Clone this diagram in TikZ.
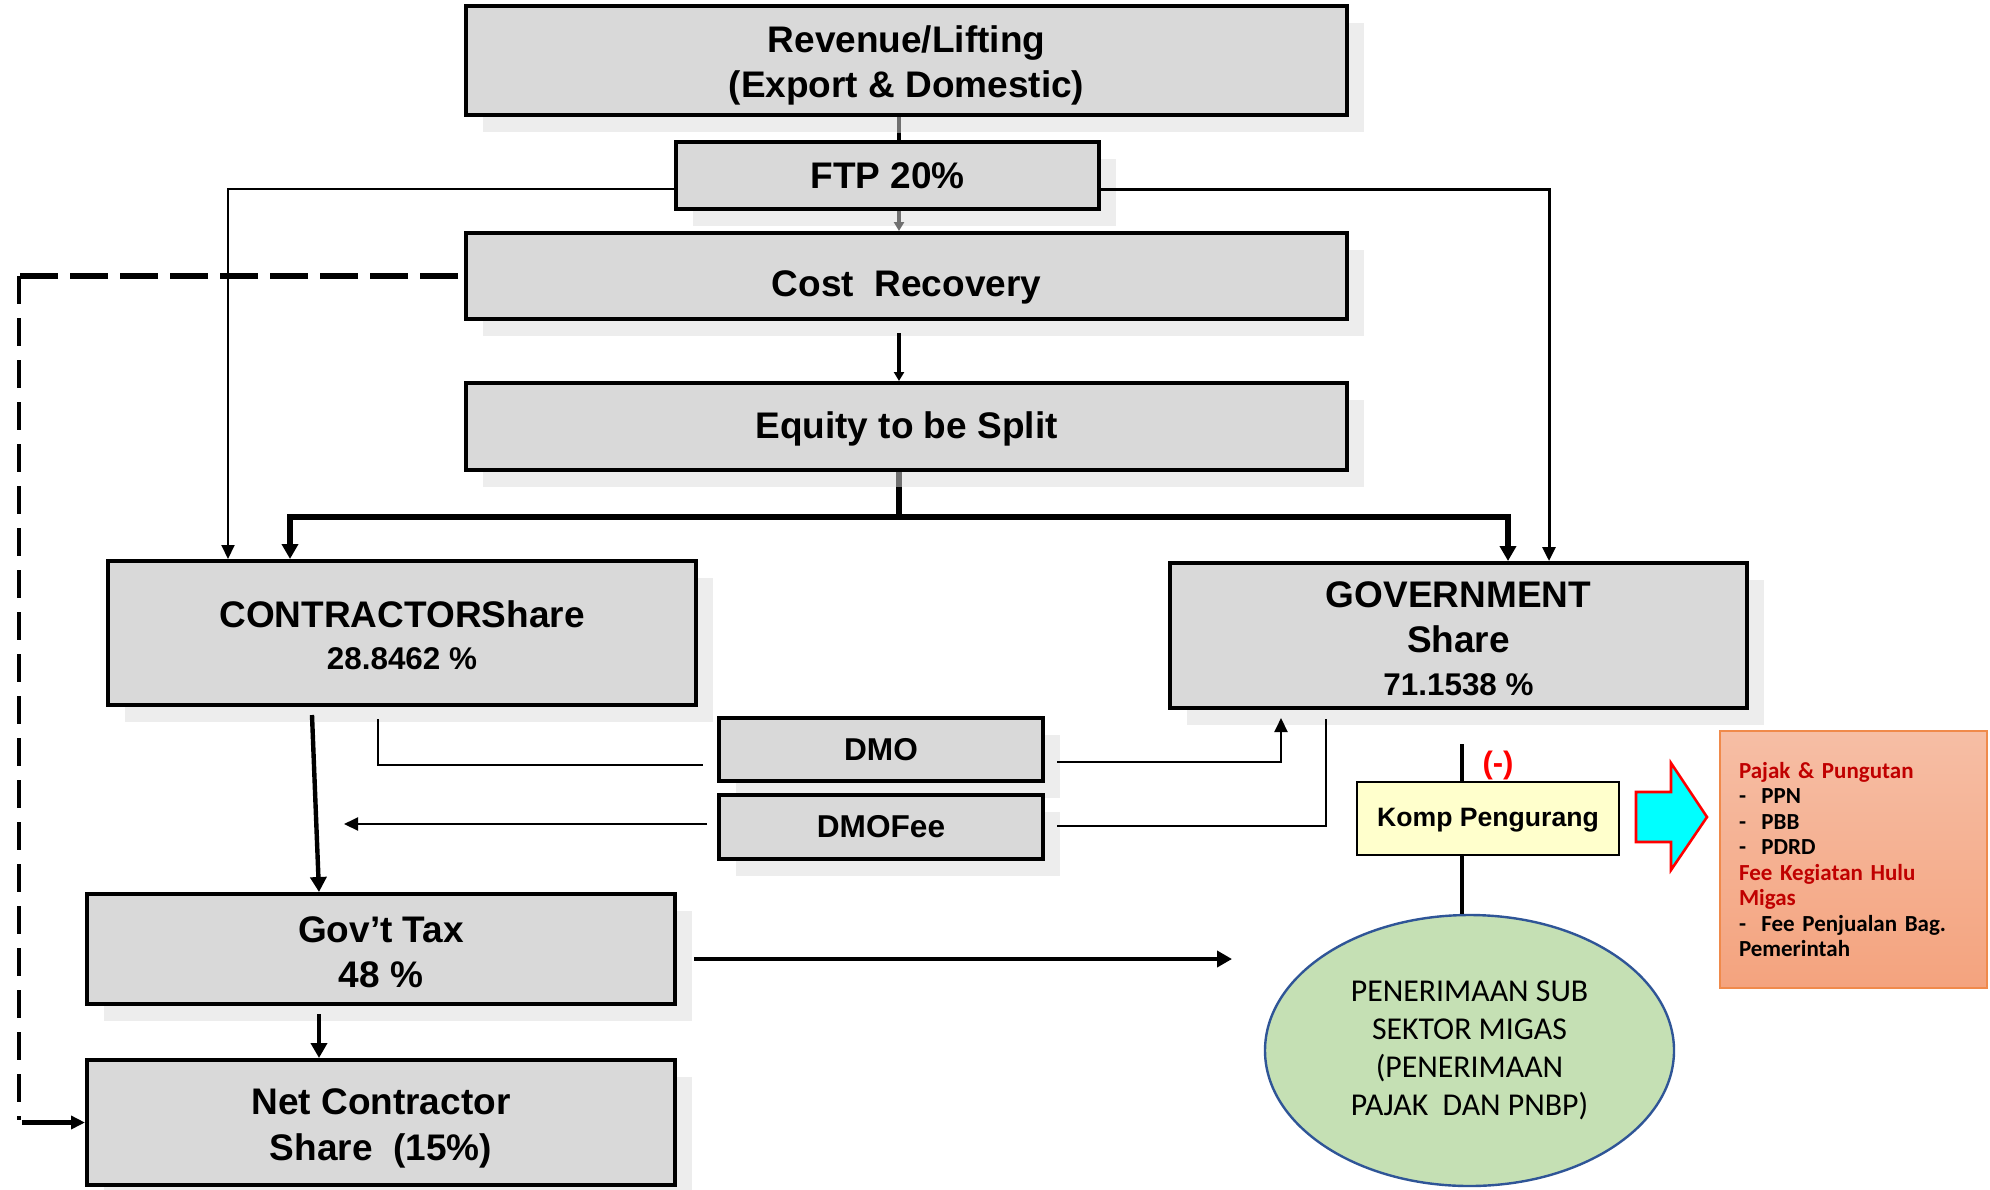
\documentclass[tikz,border=0pt]{standalone}
\usepackage{fontspec}
\setmainfont{Liberation Sans}
\newfontfamily\calibri{Carlito}
\usetikzlibrary{arrows.meta,shadows,shapes.geometric}
\definecolor{boxgray}{HTML}{D9D9D9}
\definecolor{shadowgray}{HTML}{EDEDED}
\definecolor{kompyellow}{HTML}{FFFFCC}
\definecolor{pengreen}{HTML}{C5E0B4}
\definecolor{penblue}{HTML}{2F5597}
\definecolor{pinktop}{HTML}{F6BEA5}
\definecolor{pinkbot}{HTML}{F4A37E}
\definecolor{pinkedge}{HTML}{F08A4B}
\definecolor{redtxt}{HTML}{C00000}
\definecolor{linegray}{HTML}{707070}
\definecolor{cyanfill}{HTML}{00FFFF}
\definecolor{minusred}{HTML}{FF0000}
\begin{document}
\begin{tikzpicture}[x=0.5pt,y=-0.5pt,
  box/.style={draw=black, line width=2pt, fill=boxgray, inner sep=0pt, align=center,
    general shadow={fill=shadowgray, shadow xshift=8.5pt, shadow yshift=-8.5pt},
    font=\bfseries\fontsize{18.5}{22.5}\selectfont},
  smallbox/.style={box, font=\bfseries\fontsize{15.8}{19}\selectfont},
  thinln/.style={line width=1pt},
  medln/.style={line width=1.5pt},
  thickln/.style={line width=2.2pt},
  busln/.style={line width=2.6pt},
  dashH/.style={line width=2.7pt, dash pattern=on 19pt off 6pt},
  dashV/.style={line width=1.8pt, dash pattern=on 14pt off 7pt},
  tipS/.style={-{Triangle[length=4.5pt,width=5pt]}},
  tipM/.style={-{Triangle[length=7pt,width=6.5pt]}},
  tipL/.style={-{Triangle[length=7.5pt,width=8pt]}}]
\fill[white] (0,0) rectangle (1990,1189);
\useasboundingbox (0,0) rectangle (1990,1189);

% boxes
\node[box, minimum width=440.5pt, minimum height=54.5pt] (rev) at (906.5,60.5) {\rule{0pt}{18.5pt}Revenue/Lifting\\(Export \& Domestic)};
\node[box, minimum width=211.5pt, minimum height=33.5pt] (ftp) at (887.5,175.5) {FTP 20\%};
\node[box, minimum width=440.5pt, minimum height=43pt] (cr) at (906.5,276) {\rule{0pt}{24pt}Cost\ \ Recovery};
\node[box, minimum width=440.5pt, minimum height=43.5pt] (eq) at (906.5,426.5) {\rule{0pt}{16pt}Equity to be Split};
\node[box, minimum width=294pt, minimum height=72pt] (con) at (402,633) {\rule{0pt}{16pt}CONTRACTORShare\\[-1.5pt]{\fontsize{15.7}{19}\selectfont 28.8462 \%}};
\node[box, minimum width=288.5pt, minimum height=72.5pt] (gov) at (1458.5,635.5) {\rule{0pt}{16pt}GOVERNMENT\\Share\\[-1pt]{\fontsize{15.7}{19}\selectfont 71.1538 \%}};
\node[smallbox, minimum width=162pt, minimum height=31.5pt] (dmo) at (881,749.5) {DMO};
\node[smallbox, minimum width=162pt, minimum height=32pt] (dmof) at (881,827) {DMOFee};
\node[box, minimum width=294pt, minimum height=55pt] (gtax) at (381,949) {\rule{0pt}{16pt}Gov’t Tax\\48 \%};
\node[box, minimum width=294pt, minimum height=62.5pt] (nc) at (381,1122.5) {\rule{0pt}{18.5pt}Net Contractor\\[0.5pt]Share\ \ (15\%)};
\node[draw=black, line width=1.2pt, fill=kompyellow, minimum width=131pt, minimum height=36.5pt, inner sep=0pt,
  font=\bfseries\fontsize{13.3}{16}\selectfont] (komp) at (1488,818.5) {\rule{0pt}{11pt}Komp Pengurang};
\node[ellipse, draw=penblue, line width=1.2pt, fill=pengreen, minimum width=204.5pt, minimum height=135.5pt,
  inner sep=0pt, align=center, font=\calibri\fontsize{15.9}{19}\selectfont] (pen) at (1469.5,1050.5)
  {PENERIMAAN SUB\\SEKTOR MIGAS\\(PENERIMAAN\\PAJAK\ \ DAN PNBP)};
\node[draw=pinkedge, line width=1pt, top color=pinktop, bottom color=pinkbot, minimum width=133.5pt,
  minimum height=128.5pt, inner sep=0pt] (pink) at (1853.5,859.5) {};
\node[align=left, text width=114.5pt, inner sep=0pt, font=\calibri\bfseries\fontsize{11.5}{12.75}\selectfont]
  (pinktxt) at (pink.center) {\textcolor{redtxt}{Pajak \& Pungutan}\\
  -\ \ PPN\\
  -\ \ PBB\\
  -\ \ PDRD\\
  \textcolor{redtxt}{Fee Kegiatan Hulu}\\
  \textcolor{redtxt}{Migas}\\
  -\ \ Fee Penjualan Bag.\\
  Pemerintah};
\node[text=minusred, inner sep=0pt, font=\bfseries\fontsize{15.5}{18}\selectfont] (minus) at (1498,765) {(-)};

% cyan arrow
\draw[draw=minusred, line width=1.3pt, fill=cyanfill, line join=miter]
  (1636,792) -- (1671,792) -- (1671,763) -- (1707,817) -- (1671,870) -- (1671,842) -- (1636,842) -- cycle;

% connectors
\coordinate (c1) at (899,133);
\coordinate (c2) at (899,333);
\coordinate (c3) at (899,487);
\coordinate (bus) at (899,517);
\coordinate (busL) at (290,517);
\coordinate (busR) at (1508,517);
\draw[thickln, linegray] (rev.south -| c1) -- (c1);
\draw[thickln] (c1) -- (ftp.north -| c1);
\draw[thickln, linegray, tipS] (ftp.south -| c1) -- (cr.north -| c1);
\draw[thickln, tipS] (c2) -- (eq.north -| c2);
\draw[busln, linegray] (eq.south -| c3) -- (c3);
\draw[busln] (c3) -- (bus);
\draw[busln, tipL] (bus) -| (con.north -| busL);
\draw[busln, tipL] (bus) -| (gov.north -| busR);

\coordinate (fl) at (228,189);
\coordinate (fr) at (1549,189);
\draw[thinln, tipM] ([yshift=-6.75pt]ftp.west) -| (con.north -| fl);
\draw[medln, tipM] ([yshift=-6.75pt]ftp.east) -| (gov.north -| fr);

\coordinate (dl1) at (19,276);
\coordinate (dl2) at (19,1120);
\coordinate (dl3) at (22,1122.5);
\draw[dashH] ([xshift=-3pt]cr.west) -- (dl1);
\draw[dashV] (dl1) -- (dl2);
\draw[thickln, tipM] (dl3) -- (nc.west);

\draw[thickln, tipL] ([xshift=-45pt,yshift=-4pt]con.south) -- ([xshift=-31pt]gtax.north);
\draw[thickln, tipL] ([xshift=-31pt,yshift=-4pt]gtax.south) -- ([xshift=-31pt]nc.north);
\draw[thinln] ([xshift=-12pt,yshift=-6pt]con.south) |- ([xshift=-7pt,yshift=-7.75pt]dmo.west);
\coordinate (dfend) at (344,824);
\draw[thinln, tipM] ([xshift=-5pt,yshift=1.5pt]dmof.west) -- (dfend);
\coordinate (dg) at (1281,762);
\draw[thinln, tipM] ([xshift=6pt,yshift=-6.25pt]dmo.east) -| ([yshift=-4pt]gov.south -| dg);
\coordinate (dv) at (1326,826);
\draw[thinln] ([xshift=6pt,yshift=0.5pt]dmof.east) -| ([yshift=-4.5pt]gov.south -| dv);

\coordinate (gtend) at (1232,959);
\draw[thickln, tipL] ([xshift=8.5pt,yshift=-5pt]gtax.east) -- (gtend);

\coordinate (kx) at (1462,744);
\draw[thickln] (kx) -- (kx |- komp.north);
\draw[thickln] (komp.south -| kx) -- (kx |- pen.north);
\end{tikzpicture}
\end{document}
